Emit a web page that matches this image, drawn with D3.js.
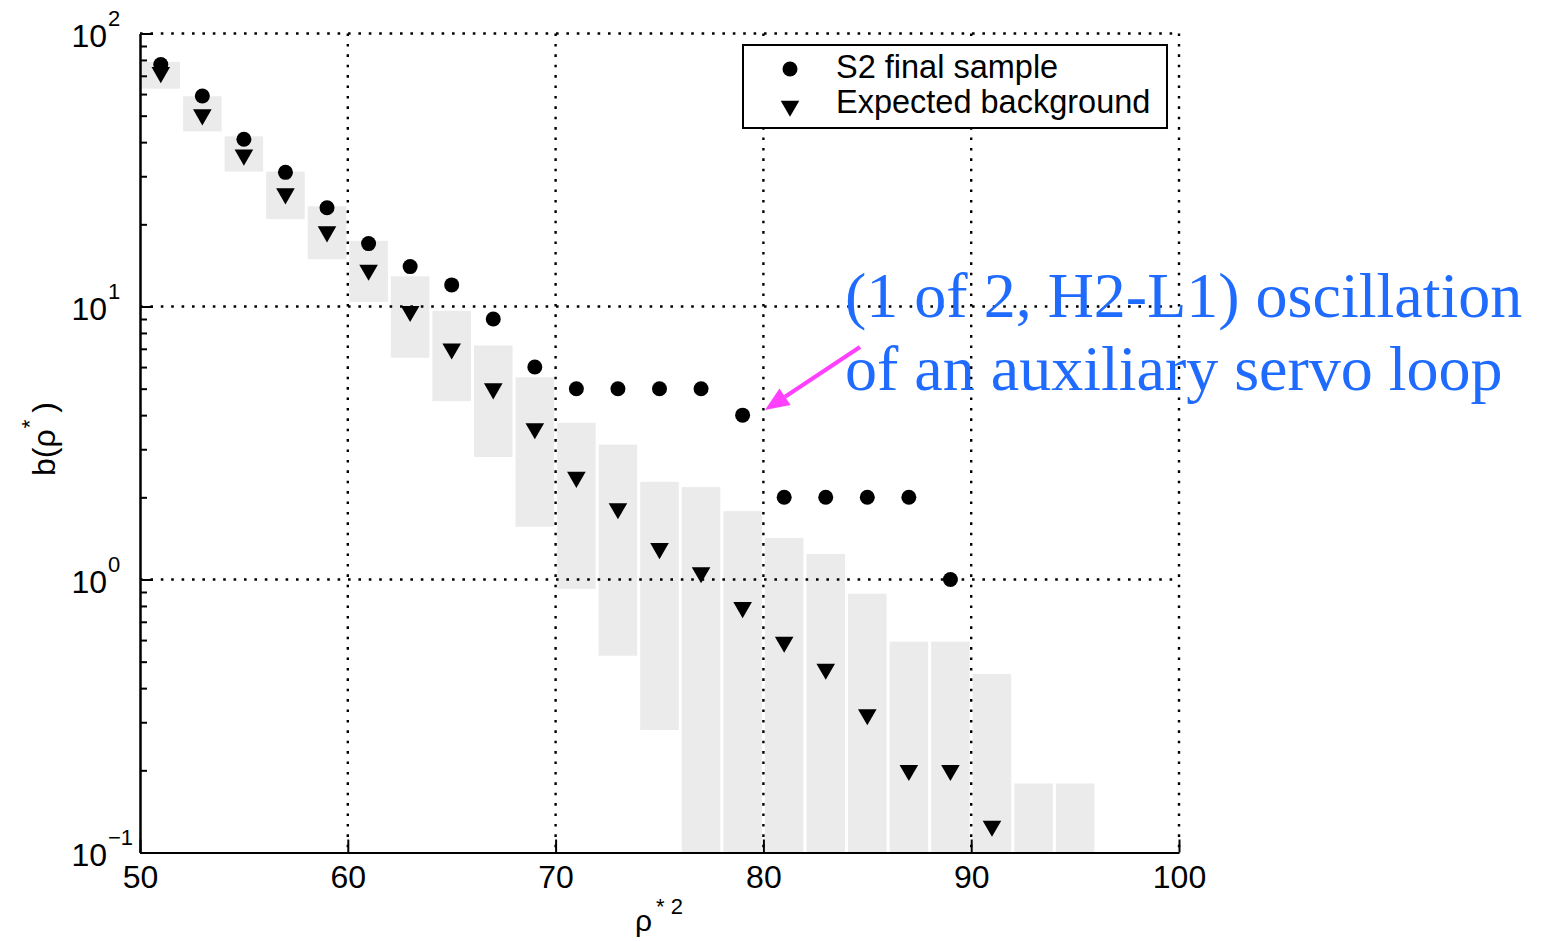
<!DOCTYPE html>
<html>
<head>
<meta charset="utf-8">
<script src="https://cdn.jsdelivr.net/npm/d3@7"></script>
<style>
  body { margin: 0; background: #fff; }
  svg { display: block; }
  .axis path, .axis line { stroke: #000; stroke-width: 2; }
  .axis text { font-family: "Liberation Sans", Arial, sans-serif; font-size: 32px; fill: #000; }
</style>
</head>
<body>
<div id="chart"></div>
<script>
// bins of rho*^2 (2 units wide), centres 51..95
var binLo = [50, 52, 54, 56, 58, 60, 62, 64, 66, 68, 70, 72, 74, 76, 78, 80, 82, 84, 86, 88, 90, 92, 94];
var bandTop = [78.7, 58.9, 42.0, 31.2, 23.3, 17.4, 12.9, 9.65, 7.2, 5.5, 3.75, 3.12, 2.28, 2.18, 1.78, 1.42, 1.24, 0.887, 0.592, 0.592, 0.451, 0.179, 0.179];
var bandBottom = [62.8, 43.8, 31.2, 20.9, 14.9, 10.4, 6.49, 4.5, 2.81, 1.56, 0.924, 0.526, 0.281, 0.05, 0.05, 0.05, 0.05, 0.05, 0.05, 0.05, 0.05, 0.05, 0.05];

// S2 final sample (circles)
var obsX = [51, 53, 55, 57, 59, 61, 63, 65, 67, 69, 71, 73, 75, 77, 79, 81, 83, 85, 87, 89];
var obsY = [77, 59, 41, 31, 23, 17, 14, 12, 9, 6, 5, 5, 5, 5, 4, 2, 2, 2, 2, 1];

// expected background (triangles)
var bkgX = [51, 53, 55, 57, 59, 61, 63, 65, 67, 69, 71, 73, 75, 77, 79, 81, 83, 85, 87, 89, 91];
var bkgY = [72, 50.4, 35.9, 25.9, 18.8, 13.6, 9.6, 7.0, 5.0, 3.57, 2.37, 1.82, 1.30, 1.06, 0.79, 0.59, 0.47, 0.32, 0.2, 0.2, 0.125];

var xTicks = [50, 60, 70, 80, 90, 100];
var yMajor = [0.1, 1, 10, 100];
var yExp = ["\u22121", "0", "1", "2"];

var W = 1543, H = 942;
var pLeft = 140, pRight = 1179, pTop = 33.5, pBottom = 852.5;

var svg = d3.select("#chart").append("svg")
    .attr("width", W)
    .attr("height", H);

var x = d3.scaleLinear().domain([50, 100]).range([pLeft, pRight]);
var y = d3.scaleLog().domain([0.1, 100]).range([pBottom, pTop]).clamp(true);

// grey bands of the expected background
svg.append("g").selectAll("rect")
    .data(binLo)
    .enter().append("rect")
    .attr("x", function (d) { return x(d) + 1.5; })
    .attr("width", function (d) { return x(d + 2) - x(d) - 3; })
    .attr("y", function (d, i) { return y(bandTop[i]); })
    .attr("height", function (d, i) { return y(bandBottom[i]) - y(bandTop[i]); })
    .attr("fill", "#ebebeb");

// dotted grid
var grid = svg.append("g")
    .attr("stroke", "#000")
    .attr("stroke-width", 2.4)
    .attr("stroke-dasharray", "2.6,7.8");
grid.selectAll(".gx")
    .data(xTicks.slice(1))
    .enter().append("line")
    .attr("x1", function (d) { return x(d); })
    .attr("x2", function (d) { return x(d); })
    .attr("y1", pTop)
    .attr("y2", pBottom);
grid.selectAll(".gy")
    .data(yMajor.slice(1))
    .enter().append("line")
    .attr("x1", pLeft)
    .attr("x2", pRight)
    .attr("y1", function (d) { return y(d); })
    .attr("y2", function (d) { return y(d); });

// x axis
svg.append("g")
    .attr("class", "axis")
    .attr("transform", "translate(0," + pBottom + ")")
    .call(d3.axisBottom(x).tickValues(xTicks).tickSize(-13).tickSizeOuter(0).tickPadding(13)
        .tickFormat(d3.format("d")));

// y axis with inward minor ticks
var yMinor = [];
[0.1, 1, 10].forEach(function (dec) {
    for (var k = 2; k <= 9; k++) yMinor.push(dec * k);
});
svg.append("g")
    .attr("class", "axis")
    .attr("transform", "translate(" + pLeft + ",0)")
    .call(d3.axisLeft(y).tickValues(yMinor).tickSize(-7).tickSizeOuter(0).tickFormat(""));
svg.append("g")
    .attr("class", "axis")
    .attr("transform", "translate(" + pLeft + ",0)")
    .call(d3.axisLeft(y).tickValues(yMajor).tickSize(-13).tickSizeOuter(0).tickFormat(""));

// y tick labels as 10^n
var ylab = svg.append("g")
    .attr("font-family", "Liberation Sans, Arial, sans-serif");
ylab.selectAll(".base")
    .data(yMajor)
    .enter().append("text")
    .attr("x", 107)
    .attr("y", function (d) { return y(d) + 13; })
    .attr("text-anchor", "end")
    .attr("font-size", 32)
    .text("10");
ylab.selectAll(".exp")
    .data(yMajor)
    .enter().append("text")
    .attr("x", 108)
    .attr("y", function (d) { return y(d) - 8; })
    .attr("font-size", 22)
    .text(function (d, i) { return yExp[i]; });

// axis titles
var xt = svg.append("text")
    .attr("x", 635)
    .attr("y", 931)
    .attr("font-family", "Liberation Sans, Arial, sans-serif")
    .attr("font-size", 30);
xt.append("tspan").text("\u03c1");
xt.append("tspan").attr("font-size", 22).attr("dy", -17).attr("dx", 4).text("*");
xt.append("tspan").attr("font-size", 22).attr("dx", 6).text("2");

var yt = svg.append("text")
    .attr("transform", "translate(55,476) rotate(-90)")
    .attr("font-family", "Liberation Sans, Arial, sans-serif")
    .attr("font-size", 32);
yt.append("tspan").text("b(\u03c1");
yt.append("tspan").attr("font-size", 22).attr("dy", -18).attr("dx", 1).text("*");
yt.append("tspan").attr("dy", 18).attr("dx", 7).text(")");

// markers
svg.append("g").selectAll("circle")
    .data(obsX)
    .enter().append("circle")
    .attr("cx", function (d) { return x(d); })
    .attr("cy", function (d, i) { return y(obsY[i]); })
    .attr("r", 7.5)
    .attr("fill", "#000");

var tri = d3.symbol().type(d3.symbolTriangle).size(150);
svg.append("g").selectAll("path")
    .data(bkgX)
    .enter().append("path")
    .attr("d", tri)
    .attr("transform", function (d, i) {
        return "translate(" + x(d) + "," + y(bkgY[i]) + ") rotate(180)";
    })
    .attr("fill", "#000");

// legend
var lg = svg.append("g");
lg.append("rect")
    .attr("x", 743).attr("y", 45)
    .attr("width", 424).attr("height", 83)
    .attr("fill", "#fff")
    .attr("stroke", "#000")
    .attr("stroke-width", 2);
lg.append("circle")
    .attr("cx", 790).attr("cy", 69)
    .attr("r", 7.5).attr("fill", "#000");
lg.append("path")
    .attr("d", tri)
    .attr("transform", "translate(790,106) rotate(180)")
    .attr("fill", "#000");
lg.selectAll("text")
    .data(["S2 final sample", "Expected background"])
    .enter().append("text")
    .attr("x", 836)
    .attr("y", function (d, i) { return 78 + i * 35; })
    .attr("font-family", "Liberation Sans, Arial, sans-serif")
    .attr("font-size", 32.5)
    .text(function (d) { return d; });

// annotation
var note = svg.append("g")
    .attr("font-family", "Liberation Serif, Times New Roman, serif")
    .attr("font-size", 64)
    .attr("fill", "#1f6bff");
note.append("text").attr("x", 845).attr("y", 317).text("(1 of 2, H2-L1) oscillation");
note.append("text").attr("x", 845).attr("y", 390).text("of an auxiliary servo loop");

var a0 = [860, 347], a1 = [765, 410];
var dx = a1[0] - a0[0], dy = a1[1] - a0[1], len = Math.sqrt(dx * dx + dy * dy);
var ux = dx / len, uy = dy / len, hl = 24, hw = 10;
var bx = a1[0] - ux * hl, by = a1[1] - uy * hl;
svg.append("line")
    .attr("x1", a0[0]).attr("y1", a0[1])
    .attr("x2", bx).attr("y2", by)
    .attr("stroke", "#ff40ff")
    .attr("stroke-width", 4);
svg.append("path")
    .attr("d", "M" + a1[0] + "," + a1[1] +
        "L" + (bx - uy * hw) + "," + (by + ux * hw) +
        "L" + (bx + uy * hw) + "," + (by - ux * hw) + "Z")
    .attr("fill", "#ff40ff");
</script>
</body>
</html>
